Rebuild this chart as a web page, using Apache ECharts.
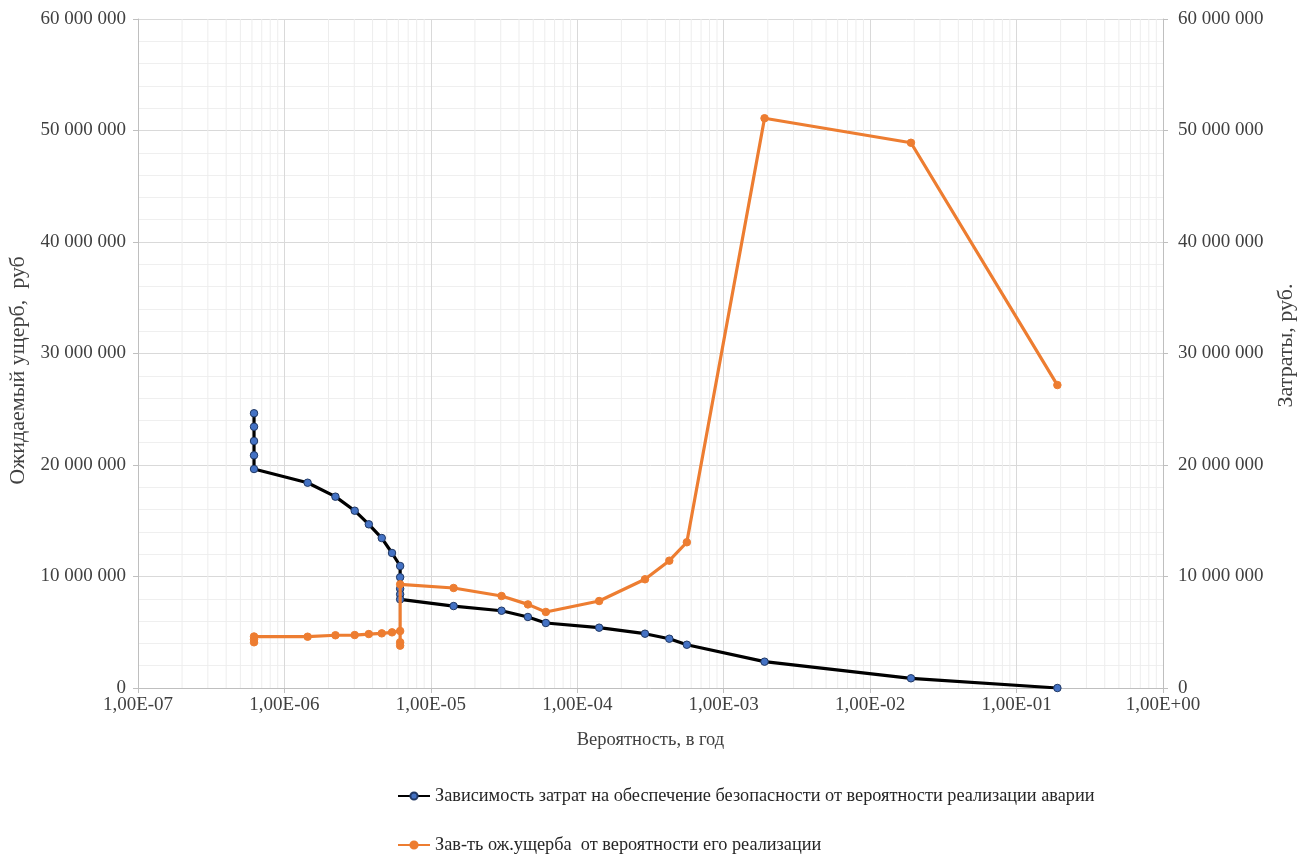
<!DOCTYPE html>
<html>
<head>
<meta charset="utf-8">
<script src="https://cdn.jsdelivr.net/npm/echarts@6/dist/echarts.min.js"></script>
<style>
  html, body { margin: 0; padding: 0; background: #fff; }
  #chart { width: 1306px; height: 856px; }
</style>
</head>
<body>
<div id="chart"></div>
<script>
// Вероятность реализации (в год) и затраты на обеспечение безопасности, руб.
const costProb = [
  6.2e-7, 6.2e-7, 6.2e-7, 6.2e-7, 6.2e-7,
  1.44e-6, 2.23e-6, 3.02e-6, 3.77e-6, 4.62e-6, 5.43e-6,
  6.17e-6, 6.17e-6, 6.17e-6, 6.17e-6, 6.17e-6,
  1.43e-5, 3.04e-5, 4.6e-5, 6.1e-5,
  1.41e-4, 2.9e-4, 4.25e-4, 5.6e-4,
  1.9e-3, 1.9e-2, 1.9e-1
];
const costValues = [
  24640000, 23430000, 22150000, 20870000, 19640000,
  18410000, 17160000, 15900000, 14680000, 13450000, 12110000,
  10940000, 9930000, 8900000, 8400000, 7950000,
  7350000, 6930000, 6370000, 5830000,
  5410000, 4870000, 4420000, 3880000,
  2360000, 870000, 0
];

// Вероятность реализации (в год) и ожидаемый ущерб, руб.
const damageProb = [
  6.2e-7, 6.2e-7, 6.2e-7,
  1.44e-6, 2.23e-6, 3.02e-6, 3.77e-6, 4.62e-6, 5.43e-6,
  6.17e-6, 6.17e-6, 6.17e-6, 6.17e-6,
  1.43e-5, 3.04e-5, 4.6e-5, 6.1e-5,
  1.41e-4, 2.9e-4, 4.25e-4, 5.6e-4,
  1.9e-3, 1.9e-2, 1.9e-1
];
const damageValues = [
  4100000, 4350000, 4620000,
  4600000, 4730000, 4750000, 4840000, 4900000, 4990000,
  5110000, 4100000, 3800000, 9300000,
  8970000, 8250000, 7500000, 6820000,
  7800000, 9750000, 11420000, 13070000,
  51100000, 48900000, 27170000
];

const costName = 'Зависимость затрат на обеспечение безопасности от вероятности реализации аварии';
const damageName = 'Зав-ть ож.ущерба  от вероятности его реализации';
const xAxisTitle = 'Вероятность, в год';
const leftAxisTitle = 'Ожидаемый ущерб,  руб';
const rightAxisTitle = 'Затраты, руб.';

const FONT = 'Liberation Serif';
const TEXT = '#404040';
const Y_MAX = 60000000;

// промежуточные линии сетки логарифмической шкалы: 2..9 × 10^n
const minorGrid = [];
for (let e = -7; e < 0; e++) {
  for (let k = 2; k <= 9; k++) minorGrid.push(k * Math.pow(10, e));
}

function fmtMoney(v) {
  return String(Math.round(v)).replace(/\B(?=(\d{3})+(?!\d))/g, ' ');
}
function fmtSci(v) {
  const e = Math.round(Math.log10(v));
  const a = Math.abs(e);
  return '1,00E' + (e < 0 ? '-' : '+') + (a < 10 ? '0' : '') + a;
}

const zip = (xs, ys) => xs.map((x, i) => [x, ys[i]]);

const valueAxis = (pos, title, grid, gap, margin, namePad) => ({
  type: 'value',
  position: pos,
  min: 0,
  max: Y_MAX,
  interval: 10000000,
  name: title,
  nameLocation: 'middle',
  nameGap: gap,
  nameTextStyle: { fontFamily: FONT, fontSize: 22, color: TEXT, padding: namePad },
  axisLine: { show: true, lineStyle: { color: '#bfbfbf' } },
  axisTick: { show: true, length: 5, lineStyle: { color: '#bfbfbf' } },
  axisLabel: {
    fontFamily: FONT, fontSize: 19, color: TEXT, margin: margin,
    formatter: fmtMoney
  },
  splitLine: { show: grid, lineStyle: { color: '#d9d9d9' } },
  minorTick: { show: false, splitNumber: 5 },
  minorSplitLine: { show: grid, lineStyle: { color: '#efefef' } }
});

const chart = echarts.init(document.getElementById('chart'), null, { renderer: 'canvas' });
chart.setOption({
  animation: false,
  backgroundColor: '#ffffff',
  grid: {
    left: 138, right: 143, top: 19, bottom: 168,
    containLabel: false,
    outerBoundsMode: 'none'
  },
  xAxis: {
    type: 'log',
    logBase: 10,
    min: 1e-7,
    max: 1,
    interval: 1,
    name: xAxisTitle,
    nameLocation: 'middle',
    nameGap: 43,
    nameTextStyle: { fontFamily: FONT, fontSize: 18.5, color: TEXT },
    axisLine: { show: true, onZero: false, lineStyle: { color: '#bfbfbf' } },
    axisTick: { show: true, length: 5, lineStyle: { color: '#bfbfbf' } },
    axisLabel: {
      fontFamily: FONT, fontSize: 19, color: TEXT, margin: 8,
      showMinLabel: true, showMaxLabel: true,
      formatter: fmtSci
    },
    splitLine: { show: true, lineStyle: { color: '#d9d9d9' } }
  },
  yAxis: [
    valueAxis('left', leftAxisTitle, true, 108, 12, [0, 34, 0, 0]),
    valueAxis('right', rightAxisTitle, false, 112, 15, [0, 0, 0, 16])
  ],
  legend: {
    orient: 'vertical',
    left: 397,
    top: 787,
    height: 100,
    padding: 0,
    itemGap: 31,
    itemWidth: 32,
    itemHeight: 9,
    textStyle: { fontFamily: FONT, fontSize: 18.3, color: '#262626' },
    data: [costName, damageName]
  },
  series: [
    {
      // тонкие вертикальные линии сетки между декадами
      name: 'minor-grid',
      type: 'custom',
      data: minorGrid.map(v => [v]),
      z: 1,
      silent: true,
      clip: true,
      renderItem: (params, api) => {
        const v = api.value(0);
        const top = api.coord([v, Y_MAX]);
        const bottom = api.coord([v, 0]);
        return {
          type: 'line',
          shape: { x1: top[0], y1: top[1], x2: bottom[0], y2: bottom[1] },
          style: { stroke: '#ededed', lineWidth: 1 }
        };
      }
    },
    {
      name: costName,
      type: 'line',
      yAxisIndex: 1,
      data: zip(costProb, costValues),
      z: 3,
      symbol: 'circle',
      symbolSize: 7.5,
      lineStyle: { color: '#000000', width: 3.2 },
      itemStyle: { color: '#4472C4', borderColor: '#203864', borderWidth: 1 }
    },
    {
      name: damageName,
      type: 'line',
      yAxisIndex: 0,
      data: zip(damageProb, damageValues),
      z: 4,
      symbol: 'circle',
      symbolSize: 7.5,
      lineStyle: { color: '#ED7D31', width: 3.2 },
      itemStyle: { color: '#ED7D31', borderColor: '#ED7D31', borderWidth: 1 }
    }
  ]
});
</script>
</body>
</html>
